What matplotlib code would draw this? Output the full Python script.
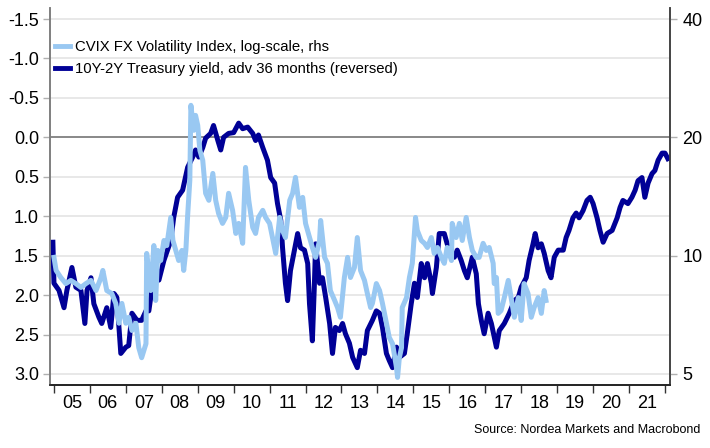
import numpy as np
import matplotlib
matplotlib.use("Agg")
import matplotlib.pyplot as plt
from matplotlib.ticker import FixedLocator, NullFormatter, FixedFormatter

plt.rcParams['font.family'] = ['Liberation Sans', 'DejaVu Sans']
plt.rcParams['axes.unicode_minus'] = False

# 10Y-2Y Treasury yield, advanced 36 months (left axis, reversed)
curve_years = [
    2004.97, 2005.00, 2005.14, 2005.28, 2005.36, 2005.50, 2005.61, 2005.75, 2005.86, 2005.92,
    2006.03, 2006.11, 2006.25, 2006.33, 2006.47, 2006.58, 2006.67, 2006.75, 2006.86, 2007.00,
    2007.08, 2007.17, 2007.31, 2007.44, 2007.56, 2007.64, 2007.72, 2007.86, 2007.92, 2008.06,
    2008.25, 2008.33, 2008.44, 2008.58, 2008.72, 2008.86, 2008.94, 2009.03, 2009.14, 2009.22,
    2009.36, 2009.44, 2009.56, 2009.64, 2009.72, 2009.86, 2010.00, 2010.14, 2010.25, 2010.39,
    2010.53, 2010.61, 2010.69, 2010.81, 2010.94, 2011.03, 2011.14, 2011.22, 2011.31, 2011.36,
    2011.44, 2011.50, 2011.58, 2011.69, 2011.78, 2011.86, 2011.97, 2012.06, 2012.11, 2012.19,
    2012.25, 2012.28, 2012.39, 2012.47, 2012.56, 2012.67, 2012.75, 2012.83, 2012.94, 2013.03,
    2013.11, 2013.22, 2013.31, 2013.44, 2013.53, 2013.64, 2013.72, 2013.86, 2013.97, 2014.06,
    2014.14, 2014.25, 2014.33, 2014.42, 2014.53, 2014.61, 2014.75, 2014.83, 2014.94, 2015.03,
    2015.11, 2015.22, 2015.31, 2015.39, 2015.50, 2015.53, 2015.64, 2015.72, 2015.86, 2015.94,
    2016.06, 2016.14, 2016.22, 2016.33, 2016.42, 2016.50, 2016.64, 2016.75, 2016.81, 2016.89,
    2016.97, 2017.08, 2017.17, 2017.31, 2017.39, 2017.53, 2017.67, 2017.81, 2017.92, 2018.00,
    2018.14, 2018.22, 2018.33, 2018.39, 2018.47, 2018.56, 2018.64, 2018.75, 2018.83, 2018.92,
    2019.03, 2019.17, 2019.25, 2019.33, 2019.44, 2019.53, 2019.61, 2019.72, 2019.83, 2019.92,
    2020.00, 2020.11, 2020.19, 2020.28, 2020.39, 2020.53, 2020.67, 2020.75, 2020.83, 2020.97,
    2021.08, 2021.17, 2021.25, 2021.36, 2021.44, 2021.53, 2021.64, 2021.72, 2021.81, 2021.92,
    2022.00, 2022.08,
]
curve_values = [
    1.33, 1.85, 1.94, 2.16, 1.94, 1.65, 1.90, 1.94, 2.36, 1.94,
    1.78, 2.11, 2.28, 2.36, 2.16, 2.41, 1.98, 2.03, 2.74, 2.66,
    2.64, 2.23, 2.32, 2.32, 2.20, 2.20, 1.94, 1.78, 1.81, 1.56,
    1.31, 1.02, 0.76, 0.67, 0.38, 0.25, 0.16, 0.25, 0.13, 0.01,
    -0.05, -0.15, 0.04, 0.16, 0.00, -0.05, -0.06, -0.18, -0.11, -0.13,
    -0.05, 0.04, -0.03, 0.13, 0.29, 0.51, 0.58, 0.84, 1.05, 1.40,
    1.85, 2.07, 1.69, 1.43, 1.22, 1.40, 1.43, 1.60, 2.11, 2.58,
    1.81, 1.35, 1.85, 1.78, 2.03, 2.36, 2.74, 2.41, 2.45, 2.36,
    2.49, 2.61, 2.79, 2.92, 2.70, 2.74, 2.45, 2.32, 2.20, 2.23,
    2.41, 2.74, 2.83, 2.92, 2.66, 2.79, 2.74, 2.49, 2.11, 1.85,
    2.03, 1.60, 1.78, 1.60, 1.85, 1.98, 1.65, 1.22, 1.22, 1.35,
    1.47, 1.52, 1.43, 1.56, 1.69, 1.78, 1.52, 1.73, 2.11, 2.32,
    2.49, 2.23, 2.36, 2.66, 2.45, 2.36, 2.23, 2.07, 2.03, 1.90,
    1.78, 1.56, 1.35, 1.22, 1.40, 1.35, 1.47, 1.69, 1.78, 1.52,
    1.43, 1.43, 1.27, 1.18, 1.02, 0.96, 1.02, 0.93, 0.80, 0.76,
    0.84, 1.02, 1.18, 1.33, 1.22, 1.18, 1.02, 0.89, 0.80, 0.84,
    0.76, 0.67, 0.55, 0.51, 0.76, 0.58, 0.46, 0.42, 0.29, 0.20,
    0.20, 0.27,
]

# CVIX FX volatility index (right axis, log scale)
cvix_years = [
    2005.00, 2005.06, 2005.19, 2005.33, 2005.47, 2005.61, 2005.75, 2005.89, 2006.03, 2006.17,
    2006.31, 2006.36, 2006.47, 2006.61, 2006.72, 2006.81, 2006.89, 2007.00, 2007.08, 2007.17,
    2007.28, 2007.36, 2007.44, 2007.56, 2007.58, 2007.69, 2007.78, 2007.83, 2007.89, 2007.97,
    2008.06, 2008.14, 2008.25, 2008.31, 2008.39, 2008.47, 2008.56, 2008.61, 2008.67, 2008.72,
    2008.78, 2008.81, 2008.89, 2008.94, 2009.00, 2009.06, 2009.14, 2009.22, 2009.31, 2009.42,
    2009.50, 2009.58, 2009.69, 2009.78, 2009.86, 2009.97, 2010.06, 2010.14, 2010.25, 2010.33,
    2010.42, 2010.53, 2010.61, 2010.69, 2010.81, 2010.89, 2011.00, 2011.08, 2011.17, 2011.28,
    2011.36, 2011.44, 2011.56, 2011.64, 2011.72, 2011.83, 2011.92, 2012.00, 2012.11, 2012.19,
    2012.28, 2012.39, 2012.42, 2012.53, 2012.61, 2012.69, 2012.81, 2012.89, 2012.97, 2013.08,
    2013.17, 2013.25, 2013.36, 2013.44, 2013.53, 2013.64, 2013.72, 2013.81, 2013.86, 2013.97,
    2014.06, 2014.14, 2014.25, 2014.33, 2014.42, 2014.53, 2014.56, 2014.61, 2014.67, 2014.69,
    2014.81, 2014.89, 2014.97, 2015.06, 2015.11, 2015.22, 2015.31, 2015.39, 2015.50, 2015.58,
    2015.67, 2015.78, 2015.86, 2015.94, 2016.06, 2016.08, 2016.19, 2016.28, 2016.36, 2016.47,
    2016.56, 2016.64, 2016.75, 2016.83, 2016.94, 2017.03, 2017.11, 2017.22, 2017.25, 2017.31,
    2017.36, 2017.44, 2017.53, 2017.64, 2017.72, 2017.81, 2017.92, 2018.00, 2018.08, 2018.19,
    2018.28, 2018.36, 2018.47, 2018.56, 2018.64, 2018.69,
]
cvix_values = [
    9.90, 9.17, 8.80, 8.49, 8.65, 8.49, 8.30, 8.49, 8.65, 8.15,
    8.80, 9.17, 8.15, 8.01, 7.56, 6.73, 7.56, 6.73, 6.97, 6.45,
    6.73, 5.83, 5.50, 5.97, 10.13, 8.15, 10.61, 7.69, 10.31, 9.72,
    10.93, 10.61, 12.51, 10.93, 10.31, 9.72, 10.31, 9.17, 10.31, 12.66,
    15.54, 24.13, 20.84, 22.75, 21.46, 18.53, 17.48, 14.41, 13.83, 16.19,
    13.83, 12.81, 12.08, 12.51, 14.41, 13.04, 11.39, 12.08, 10.75, 16.77,
    13.83, 11.80, 11.39, 12.51, 13.04, 12.51, 12.08, 11.12, 10.13, 12.51,
    11.59, 11.12, 13.83, 14.41, 15.82, 13.27, 14.07, 12.08, 11.12, 10.49,
    9.90, 10.93, 12.29, 9.90, 9.56, 8.15, 7.69, 7.38, 6.97, 8.80,
    9.90, 8.80, 9.33, 11.12, 9.17, 8.65, 8.01, 7.38, 7.56, 8.49,
    8.15, 7.56, 6.73, 6.19, 5.97, 5.19, 4.90, 5.50, 5.83, 7.38,
    7.82, 8.80, 9.56, 12.51, 11.59, 10.93, 10.75, 10.49, 11.12, 10.13,
    10.49, 9.90, 9.56, 10.49, 9.72, 12.08, 11.12, 12.08, 10.93, 12.51,
    11.12, 10.31, 9.90, 9.90, 10.75, 10.31, 10.49, 9.56, 8.49, 8.80,
    7.13, 7.25, 7.82, 8.65, 7.82, 6.97, 7.82, 6.84, 8.49, 8.01,
    6.97, 7.38, 7.82, 7.13, 8.15, 7.69,
]

year_labels = ['05', '06', '07', '08', '09', '10', '11', '12', '13',
               '14', '15', '16', '17', '18', '19', '20', '21']
left_ticks = [-1.5, -1.0, -0.5, 0.0, 0.5, 1.0, 1.5, 2.0, 2.5, 3.0]
right_ticks = [5, 10, 20, 40]

dark_blue = '#000096'
light_blue = '#99C8F2'
grey = '#7f7f7f'

fig = plt.figure(figsize=(7.10, 4.48), dpi=100)
ax = fig.add_axes([50 / 710, 1 - 385 / 448, 620 / 710, 377 / 448])
ax2 = ax.twinx()

# left axis (reversed)
ax.set_ylim(3.14, -1.64)
ax.set_yticks(left_ticks)
ax.set_yticklabels([f'{t:.1f}' for t in left_ticks])
for t in left_ticks:
    if t != 0:
        ax.axhline(t, color='#e4e4e4', lw=1.2, zorder=0)
ax.axhline(0, color=grey, lw=1.3, zorder=1)

# right axis (log scale, lines up with left: one doubling = 1.5 units)
ax2.set_yscale('log')
ax2.set_ylim(20 * 2 ** (-3.14 / 1.5), 20 * 2 ** (1.64 / 1.5))
ax2.yaxis.set_major_locator(FixedLocator(right_ticks))
ax2.yaxis.set_major_formatter(FixedFormatter([str(t) for t in right_ticks]))
ax2.yaxis.set_minor_locator(FixedLocator([]))

ln2, = ax.plot(curve_years, curve_values, color=dark_blue, lw=3.6, zorder=3,
               solid_joinstyle='round',
               label='10Y-2Y Treasury yield, adv 36 months (reversed)')
ln1, = ax2.plot(cvix_years, cvix_values, color=light_blue, lw=3.6, zorder=3,
                solid_joinstyle='round',
                label='CVIX FX Volatility Index, log-scale, rhs')

# x axis: year boundaries as ticks, labels in the middle of each year
ax.set_xlim(2004.89, 2022.14)
ax.xaxis.set_major_locator(FixedLocator(np.arange(2005, 2023)))
ax.xaxis.set_major_formatter(NullFormatter())
ax.xaxis.set_minor_locator(FixedLocator(np.arange(2005, 2022) + 0.5))
ax.xaxis.set_minor_formatter(FixedFormatter(year_labels))
ax.tick_params(axis='x', which='major', length=6, width=1, color='#333333')
ax.tick_params(axis='x', which='minor', length=0, pad=7, labelsize=13)
ax.tick_params(axis='y', length=5, width=1, color='#b0b0b0', pad=3, labelsize=13)
ax2.tick_params(axis='y', length=5, width=1, color='#b0b0b0', pad=4, labelsize=13)

for a in (ax, ax2):
    a.spines['top'].set_visible(False)
    a.spines['left'].set_color(grey)
    a.spines['right'].set_color('#444444')
    a.spines['bottom'].set_color('#222222')
    a.spines['left'].set_linewidth(1.2)
    a.spines['right'].set_linewidth(1.2)
    a.spines['bottom'].set_linewidth(1.2)

leg = ax.legend([ln1, ln2], [ln1.get_label(), ln2.get_label()],
                loc='upper left', bbox_to_anchor=(0.008, 0.915), frameon=False,
                fontsize=10.7, handlelength=1.0, handletextpad=0.35,
                borderpad=0, borderaxespad=0, labelspacing=0.55)
for h in leg.get_lines():
    h.set_linewidth(3.5)

fig.text(700 / 710, 1 - 430 / 448, 'Source: Nordea Markets and Macrobond',
         ha='right', va='center', fontsize=9)

fig.savefig('out.png', dpi=100)
